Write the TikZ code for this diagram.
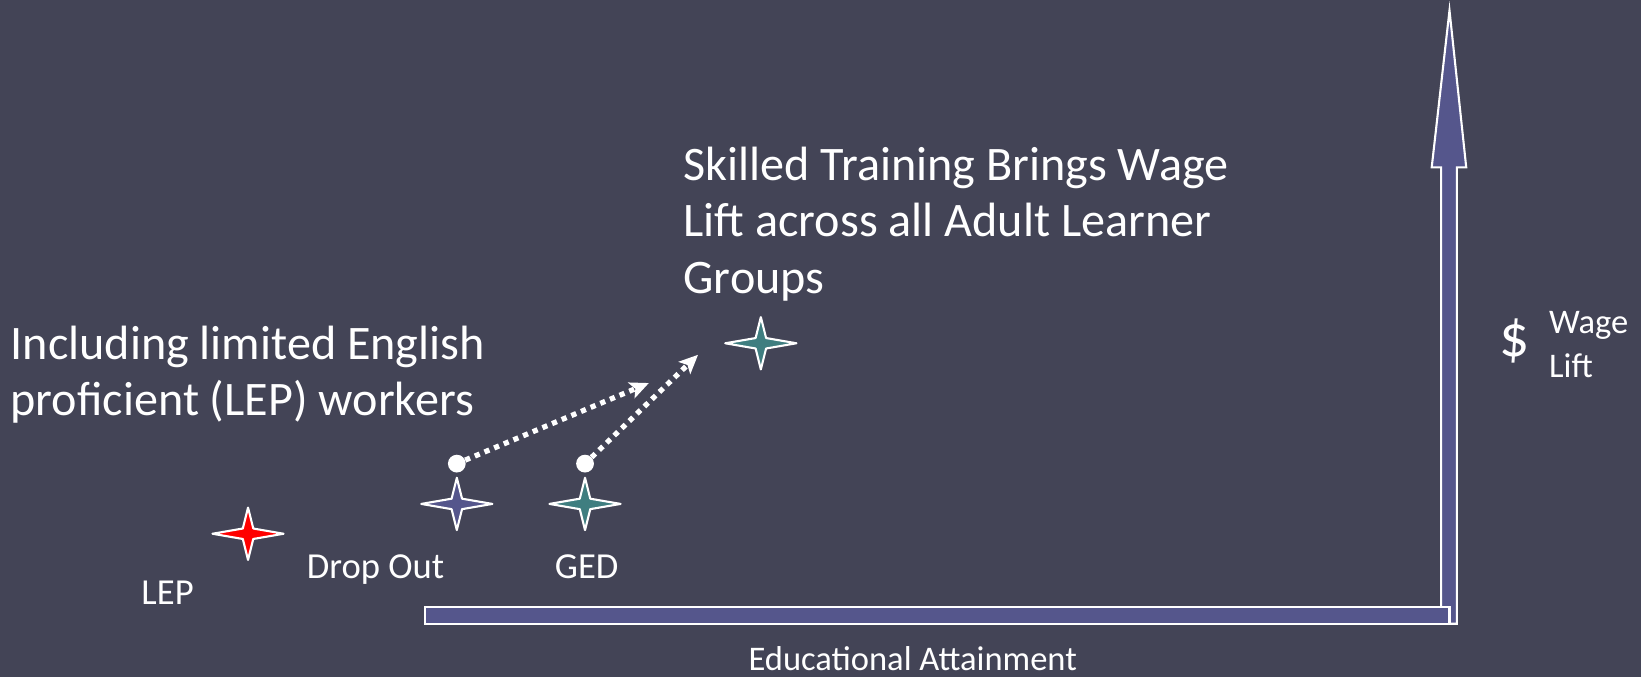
\documentclass[tikz,border=0pt]{standalone}
\usepackage{fontspec}
\setmainfont{Carlito}
\usetikzlibrary{arrows.meta}

\definecolor{slate}{HTML}{434456}
\definecolor{barblue}{HTML}{55568C}
\definecolor{starteal}{HTML}{3F7E80}

\tikzset{
  sparkle/.pic={\path[pic actions] (34,0) -- (5,5) -- (0,25) -- (-5,5) -- (-34,0) -- (-5,-5) -- (0,-25) -- (5,-5) -- cycle;},
  tag/.style={text=white, inner sep=0pt, font=\fontsize{35}{42}\selectfont},
  bigtext/.style={text=white, inner sep=0pt, align=left, font=\fontsize{46}{54}\selectfont},
  dot/.style={circle, fill=white, minimum size=17pt, inner sep=0pt},
  lift/.style={white, line width=5pt, dash pattern=on 5pt off 5pt, -{Stealth[length=18pt,width=16pt,inset=4pt]}},
  axis/.style={fill=barblue, draw=white, line width=2pt}
}

\begin{document}
\begin{tikzpicture}[x=1pt,y=-1pt]

% fond
\fill[slate] (0,0) rectangle (1568,647);

% axe vertical avec la fleche, puis l'axe horizontal par-dessus
\draw[axis] (1377,596) -- (1377,160) -- (1368,160) -- (1385,10) -- (1401,160) -- (1392,160) -- (1392,596) -- cycle;
\draw[axis] (406,580) rectangle (1385,596);

% les etoiles
\pic[draw=white, line width=2pt, line join=round, fill=red] at (237,510) {sparkle};
\pic[draw=white, line width=2pt, line join=round, fill=barblue] at (436.5,481.5) {sparkle};
\pic[draw=white, line width=2pt, line join=round, fill=starteal] at (559,481.5) {sparkle};
\pic[draw=white, line width=2pt, line join=round, fill=starteal] at (727,328) {sparkle};

% points et fleches en pointilles
\node[dot] (dropdot) at (436.5,443) {};
\node[dot] (geddot) at (559,443) {};
\coordinate (droptip) at (620,366);
\coordinate (gedtip) at (667,339);
\draw[lift] (dropdot) -- (droptip);
\draw[lift] (geddot) -- (gedtip);

% textes
\node[bigtext, anchor=north west] (skilled) at (653,140) {Skilled Training Brings Wage\\Lift across all Adult Learner\\Groups};
\node[bigtext, anchor=north west] (including) at (10,311) {Including limited English\\proficient (LEP) workers};
\node[tag, anchor=base west] (lep) at (135,578) {LEP};
\node[tag, anchor=base west] (dropout) at (293,553) {Drop Out};
\node[tag, anchor=base west] (ged) at (530,553) {GED};
\node[tag, anchor=base west, font=\fontsize{33}{40}\selectfont] (educ) at (715,641) {Educational Attainment};
\node[tag, anchor=base west, font=\fontsize{57}{64}\selectfont] (dollar) at (1433,341) {\$};
\node[tag, anchor=north west, align=left, font=\fontsize{33}{42}\selectfont] (wage) at (1480,297) {Wage\\Lift};

\end{tikzpicture}
\end{document}
